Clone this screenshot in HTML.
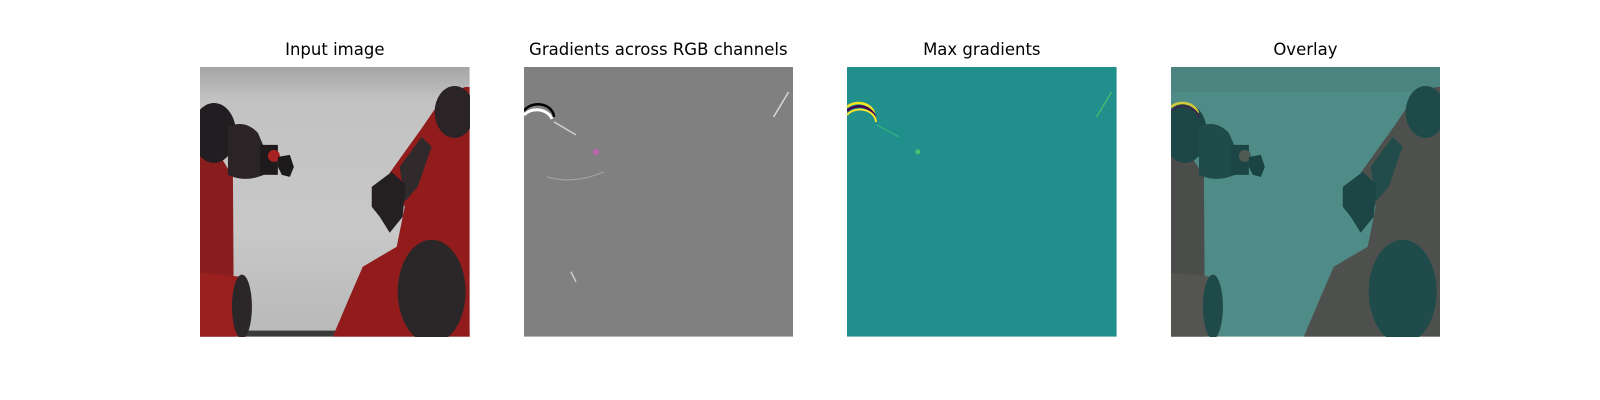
<!DOCTYPE html>
<html><head><meta charset="utf-8">
<style>
html,body{margin:0;padding:0;background:#fff;}
#fig{position:relative;width:1600px;height:400px;overflow:hidden;background:#fff;font-family:"DejaVu Sans","Liberation Sans",sans-serif;}
.panel{position:absolute;top:67.2px;width:269.6px;height:269.6px;}
.title{position:absolute;top:40px;width:400px;text-align:center;font-size:16.5px;color:#000;line-height:20px;}
svg{display:block}
</style></head><body>
<div id="fig">
  <div class="title" style="left:134.8px">Input image</div>
  <div class="title" style="left:458.3px">Gradients across RGB channels</div>
  <div class="title" style="left:781.8px">Max gradients</div>
  <div class="title" style="left:1105.4px">Overlay</div>

  <div class="panel" style="left:200px">
    <svg width="269.6" height="269.6" viewBox="0 0 270 270">
      <defs>
        <linearGradient id="bg1" x1="0" y1="0" x2="0" y2="1">
          <stop offset="0" stop-color="#a5a5a5"/><stop offset="0.12" stop-color="#c2c2c2"/><stop offset="0.6" stop-color="#c8c8c8"/><stop offset="1" stop-color="#b8b8b8"/>
        </linearGradient>
      </defs>
      <rect width="270" height="270" fill="url(#bg1)"/>
      <rect x="0" y="264" width="270" height="6" fill="#3a3a38"/>
      <polygon points="0,86 22,92 33,110 34,270 0,270" fill="#8a1d1d"/>
      <polygon points="0,206 40,210 47,270 0,270" fill="#9a2020"/>
      <ellipse cx="42" cy="240" rx="10" ry="32" fill="#2b2628"/>
      <ellipse cx="14" cy="66" rx="22" ry="30" fill="#221d20"/>
      <path d="M28,60 Q45,52 58,66 L64,80 L64,108 Q45,116 28,108 Z" fill="#2a2426"/>
      <rect x="60" y="78" width="18" height="30" fill="#1f1b1d"/>
      <circle cx="74" cy="89" r="6" fill="#a82222"/>
      <polygon points="78,90 90,88 94,100 90,110 82,108 78,100" fill="#1c1a1b"/>
      <polygon points="265,20 270,20 270,270 133,270 150,230 163,200 197,180 205,140 190,106 223,60 240,35" fill="#921c1c"/>
      <ellipse cx="255" cy="45" rx="20" ry="26" fill="#2a2426"/>
      <polygon points="200,100 222,70 232,80 218,120 205,135" fill="#302a2c"/>
      <polygon points="172,120 192,105 206,118 203,150 190,166 180,150 172,140" fill="#241f21"/>
      <ellipse cx="232" cy="225" rx="34" ry="52" fill="#2b2729"/>
    </svg>
  </div>

  <div class="panel" style="left:523.5px">
    <svg width="269.6" height="269.6" viewBox="0 0 270 270">
      <rect width="270" height="270" fill="#808080"/>
      <path d="M0,48 A16,13 0 0 1 28,52" fill="none" stroke="#ffffff" stroke-width="3"/>
      <path d="M0,44 A16,13 0 0 1 30,50" fill="none" stroke="#000000" stroke-width="2.5"/>
      <path d="M30,55 L52,68" stroke="#d0d0d0" stroke-width="1.5" fill="none"/>
      <circle cx="72" cy="85" r="3" fill="#c060b0"/>
      <path d="M23,110 Q50,118 80,105" stroke="#a8a8a8" stroke-width="1" fill="none"/>
      <path d="M250,50 L265,25" stroke="#d8d8d8" stroke-width="1.5" fill="none"/>
      <path d="M47,205 L52,215" stroke="#d0d0d0" stroke-width="1.5" fill="none"/>
    </svg>
  </div>

  <div class="panel" style="left:847px">
    <svg width="269.6" height="269.6" viewBox="0 0 270 270">
      <rect width="270" height="270" fill="#21908c"/>
      <path d="M0,40 A16,13 0 0 1 27,46" fill="none" stroke="#f5e61e" stroke-width="2.5"/>
      <path d="M0,44 A16,13 0 0 1 28,51" fill="none" stroke="#440154" stroke-width="2.5"/>
      <path d="M0,48 A16,13 0 0 1 29,55" fill="none" stroke="#fde725" stroke-width="2"/>
      <path d="M30,58 L52,70" stroke="#3bb87a" stroke-width="1" fill="none"/>
      <circle cx="71" cy="85" r="2.5" fill="#4ac16d"/>
      <path d="M250,50 L265,25" stroke="#5ec962" stroke-width="1" fill="none"/>
    </svg>
  </div>

  <div class="panel" style="left:1170.6px">
    <svg width="269.6" height="269.6" viewBox="0 0 270 270">
      <rect width="270" height="270" fill="#508c87"/>
      <rect width="270" height="25" fill="#4c8580"/>
      <polygon points="0,86 22,92 33,110 34,270 0,270" fill="#4b4d4a"/>
      <polygon points="0,206 40,210 47,270 0,270" fill="#545451"/>
      <ellipse cx="42" cy="240" rx="10" ry="32" fill="#1f4a4a"/>
      <ellipse cx="14" cy="66" rx="22" ry="30" fill="#1d4747"/>
      <path d="M28,60 Q45,52 58,66 L64,80 L64,108 Q45,116 28,108 Z" fill="#1f4b4b"/>
      <rect x="60" y="78" width="18" height="30" fill="#1c4545"/>
      <circle cx="74" cy="89" r="6" fill="#4f5a55"/>
      <polygon points="78,90 90,88 94,100 90,110 82,108 78,100" fill="#1a4343"/>
      <path d="M0,40 A16,13 0 0 1 27,46" fill="none" stroke="#d6c93a" stroke-width="2.5"/>
      <path d="M0,44 A16,13 0 0 1 28,51" fill="none" stroke="#3a2a4a" stroke-width="2"/>
      <polygon points="265,20 270,20 270,270 133,270 150,230 163,200 197,180 205,140 190,106 223,60 240,35" fill="#4d504d"/>
      <ellipse cx="255" cy="45" rx="20" ry="26" fill="#1f4a4a"/>
      <polygon points="200,100 222,70 232,80 218,120 205,135" fill="#224c4c"/>
      <polygon points="172,120 192,105 206,118 203,150 190,166 180,150 172,140" fill="#1c4646"/>
      <ellipse cx="232" cy="225" rx="34" ry="52" fill="#1f4b4b"/>
    </svg>
  </div>
</div>
</body></html>
